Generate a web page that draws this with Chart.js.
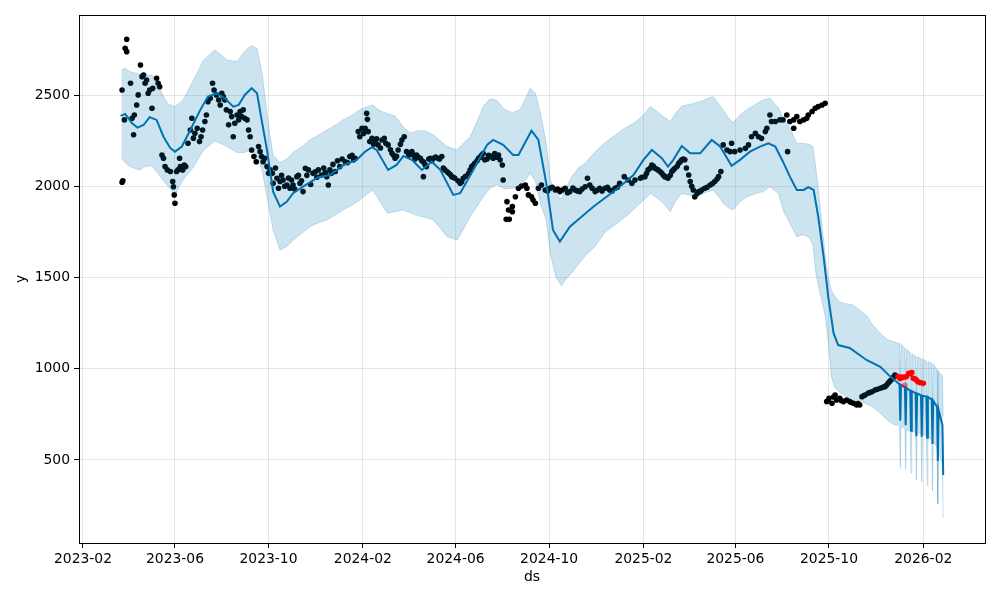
<!DOCTYPE html>
<html>
<head>
<meta charset="utf-8">
<script src="https://cdn.jsdelivr.net/npm/chart.js@4.4.1/dist/chart.umd.min.js"></script>
<style>
    html, body { margin: 0; padding: 0; background: #fff; }
    #wrap { width: 1000px; height: 600px; }
</style>
</head>
<body>
<div id="wrap"><canvas id="forecastChart" width="1000" height="600"></canvas></div>
<script>
// x values are days since 2023-01-01

// x axis ticks
const tickDays = [31, 151, 273, 396, 517, 639, 762, 882, 1004, 1127];
const tickLabels = ['2023-02', '2023-06', '2023-10', '2024-02', '2024-06', '2024-10', '2025-02', '2025-06', '2025-10', '2026-02'];
const yTicks = [500, 1000, 1500, 2000, 2500];

// observed data points (black)
const obsDay = [
    82, 83, 82, 85, 86, 88, 88, 93, 95, 97, 98, 101, 103, 106, 108, 110, 112, 114, 116, 118, 121, 122, 127, 129, 131,
    134, 136, 138, 141, 145, 148, 149, 150, 151, 153, 155, 157, 158, 161, 163, 165, 168, 171, 173, 175, 177, 180, 183,
    185, 187, 190, 192, 194, 197, 200, 202, 205, 208, 210, 212, 214, 216, 218, 221, 223, 225, 227, 229, 232, 234, 236,
    238, 240, 242, 245, 247, 249, 251, 254, 257, 260, 262, 264, 266, 268, 271, 273, 275, 278, 279, 284, 286,
    288, 292, 297, 301, 303, 305, 310, 314, 318, 321, 325, 331, 338, 342, 349, 351, 355, 360, 366, 373, 379, 386, 390,
    282, 290, 294, 299, 307, 312, 316, 323, 328, 334, 336, 345, 347, 353, 357, 363, 369, 376, 382, 384,
    392, 395, 399, 401, 402, 403, 408, 412, 416, 421, 424, 426, 429, 434, 438, 442, 447, 450, 453, 458, 462, 466, 471,
    475, 475, 479, 484, 488, 494, 499, 503, 508, 512, 516, 523, 527, 534, 538, 542, 547, 551, 555, 562, 566, 573,
    397, 405, 410, 414, 419, 432, 436, 440, 445, 456, 460, 464, 468, 473, 477, 482, 486, 491, 496, 501, 506, 510,
    514, 520, 525, 530, 536, 540, 545, 549, 553, 558, 560, 564, 568, 571,
    575, 578, 579, 584, 586, 583, 587, 591, 591, 595, 599, 603, 608, 610, 612, 616, 618, 621, 625, 629, 634, 637, 640,
    643, 647, 650, 653, 656, 660, 663, 666, 670, 673, 676, 679, 682, 686, 689, 692, 695, 699, 702, 705, 708, 712, 715,
    718, 721, 725, 728, 731, 737, 742, 747, 751, 758, 764, 768, 773, 777, 781, 786, 790, 794, 799, 803, 808, 812, 816,
    821, 823, 827, 829, 834,
    760, 766, 771, 775, 779, 784, 788, 792, 797, 801, 806, 810, 814, 818, 825, 832, 838, 845, 852, 858,
    836, 842, 849, 855, 860, 863, 866, 871, 875, 877, 881, 888, 895, 899, 903, 908, 912, 916, 921, 923, 927, 929, 934,
    940, 944, 949, 950, 953, 958, 958, 962, 966, 971, 975, 977, 982, 986, 990, 995, 999,
    1001, 1003, 1004, 1008, 1010, 1012, 1014, 1018, 1020, 1023, 1027, 1031, 1033, 1036, 1040, 1042, 1044, 1047, 1049,
    1051, 1055, 1057, 1060, 1064, 1067, 1071, 1074, 1077, 1079, 1081, 1083, 1085, 1088, 1090, 1091
];
const obsY = [
    2022, 2030, 2528, 2364, 2757, 2806, 2738, 2565, 2373, 2282, 2391, 2446, 2501, 2665, 2601, 2610, 2565, 2583, 2510, 2528, 2428, 2537, 2592, 2565, 2546,
    2172, 2154, 2108, 2090, 2081, 2026, 1998, 1953, 1907, 2081, 2090, 2154, 2108, 2090, 2117, 2108, 2236, 2309, 2373, 2264, 2291, 2318, 2245,
    2272, 2309, 2355, 2391, 2464, 2483, 2565, 2528, 2501, 2473, 2446, 2510, 2492, 2473, 2419, 2337, 2410, 2382, 2272, 2346, 2391, 2364, 2410,
    2382, 2419, 2373, 2364, 2309, 2272, 2199, 2163, 2135, 2218, 2190, 2163, 2135, 2154, 2108, 2071, 2090, 2071, 2017, 2044, 1989,
    2026, 2035, 2007, 1989, 2035, 2007, 2053, 2017, 1971, 2099, 2090, 2071, 2090, 2062, 2053, 2007, 2071, 2081, 2108, 2135, 2163, 2154, 2300,
    2100, 2060, 2000, 2045, 1985, 2060, 2030, 2060, 2010, 2080, 2050, 2100, 2075, 2090, 2120, 2140, 2150, 2130, 2170, 2145,
    2272, 2318, 2318, 2400, 2367, 2300, 2263, 2245, 2227, 2254, 2263, 2236, 2227, 2181, 2154, 2199, 2254, 2272, 2190, 2181, 2172, 2172, 2154,
    2135, 2053, 2108, 2154, 2154, 2154, 2163, 2090, 2071, 2053, 2044, 2017, 2044, 2071, 2108, 2126, 2154, 2172, 2145, 2163, 2154, 2172,
    2290, 2245, 2230, 2260, 2210, 2200, 2170, 2165, 2230, 2170, 2190, 2150, 2160, 2140, 2120, 2150, 2140, 2160, 2150, 2100, 2080, 2065,
    2050, 2030, 2025, 2055, 2090, 2115, 2140, 2160, 2180, 2150, 2170, 2165, 2180, 2160,
    2145, 2117, 2035, 1916, 1870, 1819, 1819, 1861, 1889, 1943, 1989, 2002, 2007, 1989, 1953, 1943, 1925, 1907, 1989, 2007, 1980, 1975, 1989,
    1995, 1980, 1985, 1971, 1980, 1989, 1965, 1971, 1990, 1980, 1975, 1971, 1985, 1998, 2044, 2007, 1990, 1971, 1980, 1989, 1975, 1989, 1995,
    1980, 1975, 1989, 1995, 2017, 2053, 2035, 2017, 2035, 2044, 2053, 2090, 2117, 2099, 2090, 2071, 2053, 2044, 2081, 2099, 2126, 2145, 2145,
    2062, 2026, 1980, 1943, 1971,
    2050, 2070, 2100, 2110, 2095, 2080, 2060, 2050, 2060, 2090, 2110, 2135, 2150, 2100, 2000, 1960, 1980, 1995, 2015, 2040,
    1971, 1989, 2007, 2026, 2053, 2081, 2227, 2199, 2190, 2236, 2190, 2199, 2208, 2227, 2272, 2291, 2272, 2263, 2300, 2318, 2391, 2355, 2355,
    2364, 2364, 2391, 2190, 2355, 2364, 2318, 2382, 2355, 2364, 2373, 2391, 2410, 2428, 2437, 2446, 2455,
    820, 825, 838, 811, 845, 856, 829, 838, 826, 820, 829, 820, 815, 811, 801, 810, 801, 847, 852,
    856, 866, 870, 874, 884, 888, 893, 898, 902, 910, 920, 930, 938, 953, 966, 960
];

// recent actuals (red)
const testDay = [1094, 1097, 1099, 1101, 1105, 1108, 1110, 1112, 1114, 1116, 1118, 1120, 1123, 1127];
const testY = [957, 947, 955, 953, 957, 975, 972, 979, 948, 945, 938, 929, 924, 920];
const testFadedDay = [1103];
const testFadedY = [909];

// forecast line (yhat)
const yhatDay = [
    80, 86, 95, 102, 110, 118, 127, 136, 145, 151, 160, 171, 184, 194, 205, 216, 227, 234, 242, 251, 258, 264, 271, 279,
    288, 297, 305, 318, 338, 353, 371, 388, 399, 408, 414, 429, 440, 449, 460, 473, 486, 497, 514, 523, 540, 558, 566,
    579, 592, 599, 616, 625, 636, 644, 653, 666, 679, 697, 714, 731, 749, 762, 773, 786, 794, 801, 812, 823, 836, 851,
    862, 877, 888, 901, 914, 925, 934, 944, 953, 962, 971, 977, 984, 990, 997, 1003, 1010, 1016, 1031, 1053, 1071, 1084,
    1096, 1097, 1098, 1103, 1104, 1105, 1110, 1111, 1112, 1117, 1118, 1119, 1124, 1125, 1126, 1131, 1132, 1133,
    1138, 1139, 1140, 1145, 1146, 1147, 1152, 1153
];
const yhat = [
    2386, 2397, 2346, 2322, 2336, 2379, 2364, 2272, 2209, 2190, 2218, 2309, 2419, 2492, 2510, 2483, 2437, 2446, 2501, 2538, 2510, 2364, 2199, 1971,
    1889, 1916, 1962, 1998, 2050, 2062, 2117, 2145, 2190, 2214, 2199, 2090, 2117, 2166, 2145, 2090, 2135, 2090, 1953, 1962, 2090, 2227, 2254,
    2227, 2172, 2172, 2305, 2254, 1998, 1761, 1697, 1779, 1825, 1889, 1943, 1998, 2062, 2145, 2199, 2154, 2108, 2145, 2221, 2181, 2181, 2254,
    2218, 2112, 2145, 2190, 2218, 2236, 2218, 2135, 2053, 1980, 1980, 1995, 1980, 1834, 1614, 1395, 1195, 1130, 1114, 1048, 1011, 957,
    915, 715, 912, 900, 691, 896, 880, 660, 877, 867, 630, 864, 855, 627, 852, 848, 622, 845,
    832, 588, 825, 790, 494, 775, 690, 417
];

// uncertainty interval
const bandDay = [
    81, 86, 92, 99, 105, 113, 121, 129, 135, 142, 151, 161, 175, 188, 203, 219, 232, 241, 250, 258, 265, 272, 279, 288,
    297, 305, 317, 327, 338, 349, 360, 370, 382, 392, 401, 409, 418, 428, 438, 448, 458, 468, 477, 488, 497, 506, 519,
    528, 536, 545, 553, 562, 571, 581, 591, 601, 609, 614, 621, 628, 635, 641, 648, 655, 661, 668, 677, 686, 699, 712,
    725, 738, 751, 764, 771, 780, 788, 797, 804, 812, 823, 832, 842, 853, 859, 866, 872, 879, 888, 897, 908, 918, 927,
    938, 945, 953, 962, 970, 978, 983, 987, 991, 995, 999, 1003, 1007, 1011, 1018, 1028, 1035, 1045, 1054, 1061, 1071,
    1080, 1088, 1094,
    1096, 1097, 1098, 1103, 1104, 1105, 1110, 1111, 1112, 1117, 1118, 1119, 1124, 1125, 1126, 1131, 1132, 1133,
    1138, 1139, 1140, 1145, 1146, 1147, 1152, 1153
];
const bandUpper = [
    2638, 2647, 2630, 2620, 2615, 2610, 2610, 2555, 2500, 2450, 2437, 2470, 2580, 2690, 2748, 2693, 2684, 2735, 2772, 2755, 2610, 2360, 2170, 2130,
    2150, 2185, 2220, 2254, 2280, 2309, 2335, 2364, 2390, 2419, 2435, 2446, 2415, 2398, 2385, 2330, 2291, 2305, 2305, 2282, 2250, 2218, 2199,
    2240, 2272, 2355, 2437, 2480, 2470, 2420, 2405, 2419, 2490, 2537, 2510, 2395, 2240, 2030, 1960, 1930, 1990, 2050, 2100, 2126, 2190, 2240,
    2280, 2320, 2350, 2400, 2437, 2410, 2382, 2355, 2400, 2440, 2450, 2460, 2475, 2492, 2460, 2419, 2380, 2350, 2391, 2420, 2450, 2473, 2483,
    2430, 2370, 2320, 2236, 2236, 2230, 2218, 2100, 1950, 1780, 1620, 1500, 1430, 1400, 1365, 1355, 1350, 1320, 1286, 1240, 1195,
    1160, 1148, 1140,
    1140, 940, 1135, 1112, 903, 1108, 1088, 867, 1084, 1068, 831, 1065, 1057, 829, 1054, 1042, 815, 1038,
    1032, 788, 1028, 995, 701, 985, 960, 740
];
const bandLower = [
    2154, 2130, 2108, 2098, 2090, 2110, 2112, 2070, 2035, 2000, 1953, 2033, 2105, 2196, 2250, 2218, 2185, 2185, 2198, 2170, 2080, 1920, 1760, 1650,
    1670, 1705, 1745, 1779, 1800, 1816, 1843, 1870, 1897, 1925, 1955, 1980, 1920, 1852, 1860, 1870, 1855, 1838, 1830, 1816, 1770, 1724, 1706,
    1770, 1834, 1890, 1943, 1990, 2010, 1985, 1990, 1998, 2040, 2071, 2030, 1900, 1820, 1620, 1500, 1455, 1490, 1523, 1570, 1620, 1670, 1750,
    1790, 1830, 1880, 1930, 1960, 1935, 1907, 1861, 1920, 1962, 1950, 1943, 1965, 1980, 1950, 1907, 1885, 1870, 1915, 1943, 1960, 1971, 1998,
    1960, 1860, 1797, 1724, 1735, 1720, 1680, 1520, 1440, 1370, 1290, 1150, 960, 900, 870, 847, 830, 820, 805, 792, 755,
    719, 695, 690,
    690, 454, 688, 668, 450, 665, 657, 428, 655, 652, 390, 650, 647, 380, 645, 632, 360, 628,
    612, 330, 605, 565, 260, 555, 470, 182
];

const pts = (xs, ys) => xs.map((x, i) => ({ x: x, y: ys[i] }));

const axisFont = { family: 'DejaVu Sans', size: 13.9 };
const bandColor = 'rgba(0, 114, 178, 0.2)';

// black frame around the plot area, like matplotlib spines
const framePlugin = {
    id: 'frame',
    afterDraw(chart) {
        const { ctx, chartArea: a } = chart;
        ctx.save();
        ctx.strokeStyle = '#000';
        ctx.lineWidth = 1;
        ctx.strokeRect(Math.round(a.left) + 0.5, Math.round(a.top) + 0.5,
            Math.round(a.right - a.left), Math.round(a.bottom - a.top));
        ctx.restore();
    }
};

const ctx = document.getElementById('forecastChart').getContext('2d');
const forecastChart = new Chart(ctx, {
    type: 'line',
    data: {
        datasets: [
            {
                label: 'test',
                data: pts(testDay, testY),
                showLine: false,
                pointRadius: 2.8,
                pointBorderWidth: 0,
                pointBackgroundColor: '#ff0000'
            },
            {
                label: 'test (behind)',
                data: pts(testFadedDay, testFadedY),
                showLine: false,
                pointRadius: 2.8,
                pointBorderWidth: 0,
                pointBackgroundColor: 'rgba(255, 0, 0, 0.5)'
            },
            {
                label: 'yhat',
                data: pts(yhatDay, yhat),
                borderColor: '#0072B2',
                borderWidth: 2,
                pointRadius: 0,
                tension: 0,
                fill: false
            },
            {
                label: 'yhat_upper',
                data: pts(bandDay, bandUpper),
                borderColor: bandColor,
                borderWidth: 1,
                backgroundColor: bandColor,
                pointRadius: 0,
                tension: 0,
                fill: '+1'
            },
            {
                label: 'yhat_lower',
                data: pts(bandDay, bandLower),
                borderColor: bandColor,
                borderWidth: 1,
                pointRadius: 0,
                tension: 0,
                fill: false
            },
            {
                label: 'Observed data points',
                data: pts(obsDay, obsY),
                showLine: false,
                pointRadius: 2.8,
                pointBorderWidth: 0,
                pointBackgroundColor: '#000'
            }
        ]
    },
    options: {
        responsive: false,
        animation: false,
        devicePixelRatio: 1,
        layout: {
            padding: { left: 0, right: 15, top: 15, bottom: 0 }
        },
        plugins: {
            legend: { display: false },
            tooltip: { enabled: false }
        },
        scales: {
            x: {
                type: 'linear',
                min: 25.8,
                max: 1207.5,
                afterBuildTicks: (scale) => {
                    scale.ticks = tickDays.map(v => ({ value: v }));
                },
                afterFit: (scale) => { scale.height = 57; },
                border: { display: false },
                grid: {
                    color: 'rgba(128, 128, 128, 0.2)',
                    lineWidth: 1,
                    tickColor: '#000',
                    tickLength: 5
                },
                ticks: {
                    autoSkip: false,
                    maxRotation: 0,
                    color: '#000',
                    font: axisFont,
                    padding: 3,
                    callback: (value, index) => tickLabels[index]
                },
                title: {
                    display: true,
                    text: 'ds',
                    color: '#000',
                    font: axisFont,
                    padding: { top: 0, bottom: 14 }
                }
            },
            y: {
                type: 'linear',
                min: 45,
                max: 2939,
                afterBuildTicks: (scale) => {
                    scale.ticks = yTicks.map(v => ({ value: v }));
                },
                afterFit: (scale) => { scale.width = 79; },
                border: { display: false },
                grid: {
                    color: 'rgba(128, 128, 128, 0.2)',
                    lineWidth: 1,
                    tickColor: '#000',
                    tickLength: 5
                },
                ticks: {
                    color: '#000',
                    font: axisFont,
                    padding: 4,
                    callback: (value) => String(value)
                },
                title: {
                    display: true,
                    text: 'y',
                    color: '#000',
                    font: axisFont,
                    padding: { top: 13, bottom: 0 }
                }
            }
        }
    },
    plugins: [framePlugin]
});
</script>
</body>
</html>
